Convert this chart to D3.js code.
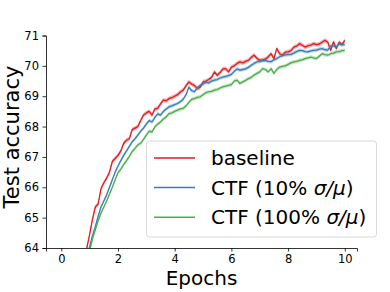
<!DOCTYPE html>
<html>
<head>
<meta charset="utf-8">
<script src="https://cdn.jsdelivr.net/npm/d3@7"></script>
<style>
  html, body { margin: 0; padding: 0; background: #fff; }
  svg { display: block; font-family: "DejaVu Sans", sans-serif; }
</style>
</head>
<body>
<div id="chart"></div>
<script>
// --- DATA ---
const epochs = [
    0, 0.1, 0.2, 0.3, 0.4, 0.5, 0.6, 0.7, 0.8, 0.9,
    1, 1.1, 1.2, 1.3, 1.4, 1.5, 1.6, 1.7, 1.8, 1.9,
    2, 2.1, 2.2, 2.3, 2.4, 2.5, 2.6, 2.7, 2.8, 2.9,
    3, 3.1, 3.2, 3.3, 3.4, 3.5, 3.6, 3.7, 3.8, 3.9,
    4, 4.1, 4.2, 4.3, 4.4, 4.5, 4.6, 4.7, 4.8, 4.9,
    5, 5.1, 5.2, 5.3, 5.4, 5.5, 5.6, 5.7, 5.8, 5.9,
    6, 6.1, 6.2, 6.3, 6.4, 6.5, 6.6, 6.7, 6.8, 6.9,
    7, 7.1, 7.2, 7.3, 7.4, 7.5, 7.6, 7.7, 7.8, 7.9,
    8, 8.1, 8.2, 8.3, 8.4, 8.5, 8.6, 8.7, 8.8, 8.9,
    9, 9.1, 9.2, 9.3, 9.4, 9.5, 9.6, 9.7, 9.8, 9.9,
    10
];

const baseline = [
    50.0, 53.0, 55.5, 57.5, 59.2, 60.6, 61.8, 62.8, 63.6, 64.0,
    64.45, 64.95, 65.35, 65.45, 65.95, 66.15, 66.3, 66.5, 66.85, 66.95,
    67.05, 67.2, 67.45, 67.55, 67.6, 67.9, 67.95, 68.0, 68.2, 68.38,
    68.45, 68.5, 68.38, 68.58, 68.6, 68.75, 68.87, 68.85, 68.92, 68.95,
    69.0, 69.05, 69.14, 69.2, 69.35, 69.47, 69.4, 69.35, 69.25, 69.3,
    69.47, 69.5, 69.55, 69.62, 69.8, 69.69, 69.78, 69.9, 69.91, 69.8,
    69.96, 70.0, 70.08, 70.13, 70.1, 70.15, 70.18, 70.28, 70.35, 70.25,
    70.18, 70.2, 70.22, 70.3, 70.4, 70.24, 70.57, 70.4, 70.35, 70.45,
    70.46, 70.5, 70.62, 70.65, 70.73, 70.68, 70.62, 70.66, 70.68, 70.73,
    70.7, 70.72, 70.78, 70.84, 70.78, 70.51, 70.79, 70.57, 70.78, 70.7,
    70.84
];

const ctf10 = [
    49.0, 52.0, 54.6, 56.8, 58.6, 60.1, 61.4, 62.4, 63.2, 63.7,
    64.05, 64.4, 64.7, 65.05, 65.35, 65.55, 65.75, 66.0, 66.25, 66.5,
    66.7, 66.88, 67.05, 67.2, 67.35, 67.5, 67.6, 67.72, 67.85, 67.95,
    68.08, 68.2, 68.15, 68.3, 68.42, 68.38, 68.5, 68.58, 68.65, 68.68,
    68.72, 68.76, 68.82, 68.9, 69.05, 69.3, 69.18, 69.15, 69.28, 69.36,
    69.4, 69.46, 69.44, 69.5, 69.53, 69.55, 69.6, 69.63, 69.65, 69.68,
    69.72, 69.82, 69.9, 69.86, 69.88, 69.9, 69.95, 70.02, 70.08, 70.13,
    70.15, 70.17, 70.18, 70.15, 70.14, 70.2, 70.24, 70.3, 70.34, 70.36,
    70.37, 70.38, 70.42, 70.47, 70.51, 70.5, 70.47, 70.46, 70.49, 70.51,
    70.52, 70.55, 70.57, 70.53, 70.52, 70.66, 70.66, 70.62, 70.72, 70.7,
    70.7
];

const ctf100 = [
    48.5, 51.5, 54.0, 56.2, 58.0, 59.6, 60.9, 62.0, 62.9, 63.5,
    63.9, 64.3, 64.6, 64.9, 65.15, 65.35, 65.55, 65.78, 66.0, 66.25,
    66.48, 66.6, 66.75, 66.88, 67.02, 67.18, 67.28, 67.4, 67.45, 67.58,
    67.72, 67.85, 67.82, 67.99, 68.08, 68.15, 68.25, 68.32, 68.43, 68.45,
    68.5, 68.54, 68.58, 68.6, 68.68, 68.8, 68.9, 68.92, 68.96, 68.98,
    69.05, 69.12, 69.14, 69.16, 69.2, 69.22, 69.27, 69.31, 69.33, 69.36,
    69.38, 69.5, 69.53, 69.42, 69.47, 69.52, 69.58, 69.62, 69.7, 69.75,
    69.8, 69.91, 69.88, 69.8, 69.91, 69.75, 69.88, 69.96, 69.98, 70.0,
    70.05, 70.1, 70.13, 70.15, 70.18, 70.2, 70.24, 70.26, 70.29, 70.26,
    70.24, 70.32, 70.4, 70.37, 70.35, 70.4, 70.42, 70.46, 70.47, 70.5,
    70.51
];

// spread of the shaded band around each mean curve (accuracy points)
const spreads = [0.07, 0.06, 0.06];

const seriesNames = ["baseline", "CTF (10% ", "CTF (100% "];
const xTicks = [0, 2, 4, 6, 8, 10];
const yTicks = [64, 65, 66, 67, 68, 69, 70, 71];

// --- SETUP ---
const width = 390, height = 292;
const margin = {top: 35.5, right: 33, bottom: 44, left: 46};

const svg = d3.select("#chart").append("svg")
    .attr("width", width)
    .attr("height", height);

const x = d3.scaleLinear()
    .domain([-0.54, 10.43])
    .range([margin.left, width - margin.right]);

const y = d3.scaleLinear()
    .domain([64, 71])
    .range([height - margin.bottom, margin.top]);

const colors = ["#e41a1c", "#377eb8", "#4daf4a"];
const series = [baseline, ctf10, ctf100];

svg.append("clipPath").attr("id", "plot-clip")
    .append("rect")
    .attr("x", margin.left)
    .attr("y", margin.top)
    .attr("width", width - margin.right - margin.left)
    .attr("height", height - margin.bottom - margin.top);

const plot = svg.append("g").attr("clip-path", "url(#plot-clip)");

// --- CURVES ---
series.forEach((vals, k) => {
    const pts = epochs.map((e, i) => ({e: e, v: vals[i]}));
    const band = d3.area()
        .x(d => x(d.e))
        .y0(d => y(d.v - spreads[k]))
        .y1(d => y(d.v + spreads[k]));
    const line = d3.line()
        .x(d => x(d.e))
        .y(d => y(d.v));

    plot.append("path")
        .datum(pts)
        .attr("d", band)
        .attr("fill", colors[k])
        .attr("opacity", 0.35);

    plot.append("path")
        .datum(pts)
        .attr("d", line)
        .attr("fill", "none")
        .attr("stroke", colors[k])
        .attr("stroke-width", 1.3)
        .attr("stroke-linejoin", "round");
});

// --- AXES ---
const xAxis = svg.append("g")
    .attr("transform", `translate(0,${height - margin.bottom})`)
    .call(d3.axisBottom(x).tickValues(xTicks).tickFormat(d3.format("d"))
        .tickSize(3.5).tickPadding(3.5));

const yAxis = svg.append("g")
    .attr("transform", `translate(${margin.left},0)`)
    .call(d3.axisLeft(y).tickValues(yTicks).tickFormat(d3.format("d"))
        .tickSize(3.5).tickPadding(3.5));

[xAxis, yAxis].forEach(ax => {
    ax.select(".domain").attr("stroke", "#000").attr("stroke-width", 0.8);
    ax.selectAll(".tick line").attr("stroke", "#000").attr("stroke-width", 0.8);
    ax.selectAll(".tick text")
        .attr("fill", "#000")
        .attr("font-size", "11.5px")
        .attr("font-family", "DejaVu Sans, sans-serif");
});

svg.append("text")
    .attr("x", (margin.left + width - margin.right) / 2)
    .attr("y", 285)
    .attr("text-anchor", "middle")
    .attr("font-size", "20px")
    .text("Epochs");

svg.append("text")
    .attr("transform", "translate(19,137) rotate(-90)")
    .attr("text-anchor", "middle")
    .attr("font-size", "21px")
    .text("Test accuracy");

// --- LEGEND ---
const legend = svg.append("g");

legend.append("rect")
    .attr("x", 146.5)
    .attr("y", 141)
    .attr("width", 230)
    .attr("height", 96)
    .attr("rx", 3)
    .attr("fill", "#fff")
    .attr("fill-opacity", 0.8)
    .attr("stroke", "#d0d0d0")
    .attr("stroke-width", 0.8);

seriesNames.forEach((name, k) => {
    const cy = 158 + k * 29.6;
    legend.append("line")
        .attr("x1", 154).attr("x2", 195)
        .attr("y1", cy).attr("y2", cy)
        .attr("stroke", colors[k])
        .attr("stroke-width", 1.5);
    const t = legend.append("text")
        .attr("x", 211)
        .attr("y", cy)
        .attr("dy", "0.35em")
        .attr("font-size", "20px")
        .text(name);
    if (k > 0) {
        t.append("tspan").attr("font-style", "italic").text("σ/μ");
        t.append("tspan").text(")");
    }
});
</script>
</body>
</html>
